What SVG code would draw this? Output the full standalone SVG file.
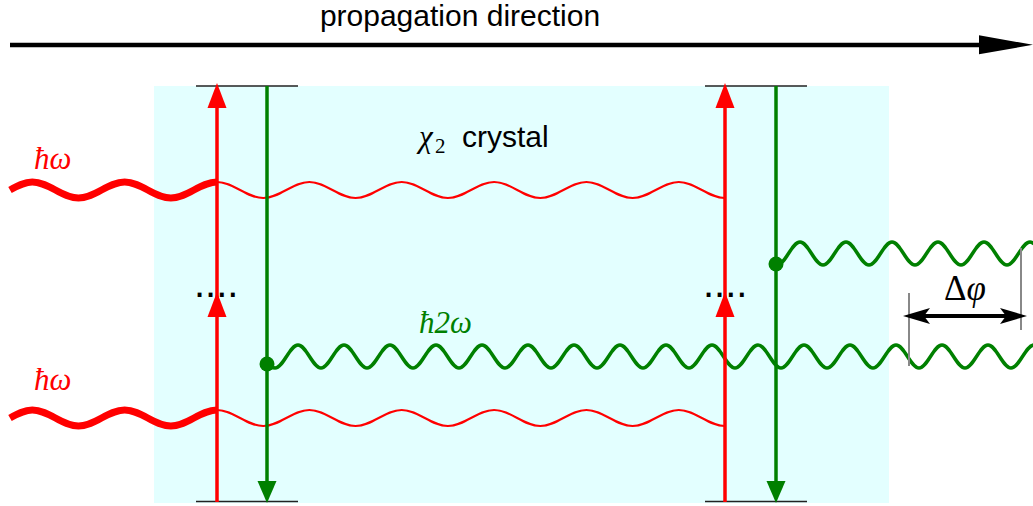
<svg xmlns="http://www.w3.org/2000/svg" width="1033" height="506" viewBox="0 0 1033 506">
<style>
.red{stroke:#ff0000;fill:none}
.grn{stroke:#008000;fill:none}
.lvl{stroke:#222;stroke-width:1.5}
.sans{font-family:"Liberation Sans","DejaVu Sans",sans-serif;font-size:30px;fill:#000}
.math{font-family:"Liberation Serif","DejaVu Serif",serif;font-style:italic;font-size:31px}
</style>
<defs>
<path id="thick" d="M10,190 C17.27,185.9 24.23,182 32.3,182 c16.82,0 29.37,16 46.18,16 s29.37,-16 46.18,-16 s29.37,16 46.18,16 s29.37,-16 46.18,-16"/>
<path id="thin" d="M217,182 c16.82,0 29.37,16 46.18,16 s29.37,-16 46.18,-16 s29.37,16 46.18,16 s29.37,-16 46.18,-16 s29.37,16 46.18,16 s29.37,-16 46.18,-16 s29.37,16 46.18,16 s29.37,-16 46.18,-16 s29.37,16 46.18,16 s29.37,-16 46.18,-16 s29.37,16 46.18,16"/>
<polygon id="upR" points="0,0 -9.5,25 9.5,25" fill="#ff0000"/>
<polygon id="dnG" points="0,0 -9.5,-22 9.5,-22" fill="#008000"/>
</defs>

<g id="crystal">
<rect x="154" y="86" width="735" height="417" fill="#e3ffff"/>
<text class="math" x="419" y="147" fill="#000">χ</text>
<text x="435" y="153" font-family="Liberation Serif,serif" font-size="21" fill="#000">2</text>
<text class="sans" x="462" y="147">crystal</text>
</g>

<g id="propagation">
<text class="sans" x="460" y="26" text-anchor="middle">propagation direction</text>
<line x1="10" y1="45" x2="982" y2="45" stroke="#000" stroke-width="4.5"/>
<polygon points="979,35.3 1033,44.8 979,54.3" fill="#000"/>
</g>

<g id="connectors">
<g id="photon-in-upper">
<use href="#thick" class="red" stroke-width="7"/>
<use href="#thin" class="red" stroke-width="2"/>
</g>
<g id="photon-in-lower" transform="translate(0,228)">
<use href="#thick" class="red" stroke-width="7"/>
<use href="#thin" class="red" stroke-width="2"/>
</g>
<path id="shg-lower" class="grn" stroke-width="3.5" d="M267,364 Q271,368 275,368 c8.37,0 14.63,-23 23,-23 s14.63,23 23,23 s14.63,-23 23,-23 s14.63,23 23,23 s14.63,-23 23,-23 s14.63,23 23,23 s14.63,-23 23,-23 s14.63,23 23,23 s14.63,-23 23,-23 s14.63,23 23,23 s14.63,-23 23,-23 s14.63,23 23,23 s14.63,-23 23,-23 s14.63,23 23,23 s14.63,-23 23,-23 s14.63,23 23,23 s14.63,-23 23,-23 s14.63,23 23,23 s14.63,-23 23,-23 s14.63,23 23,23 s14.63,-23 23,-23 s14.63,23 23,23 s14.63,-23 23,-23 s14.63,23 23,23 s14.63,-23 23,-23 s14.63,23 23,23 s14.63,-23 23,-23 s14.63,23 23,23 s14.63,-23 23,-23 s14.63,23 23,23 s14.63,-23 23,-23 s14.63,23 23,23 s14.63,-23 23,-23 s14.63,23 23,23 s14.63,-23 23,-23"/>
<path id="shg-upper" class="grn" stroke-width="3.5" d="M777,265 c8.37,0 14.63,-23 23,-23 s14.63,23 23,23 s14.63,-23 23,-23 s14.63,23 23,23 s14.63,-23 23,-23 s14.63,23 23,23 s14.63,-23 23,-23 s14.63,23 23,23 s14.63,-23 23,-23 s14.63,23 23,23 s14.63,-23 23,-23 s14.63,23 23,23"/>

<g id="levels">
<line class="lvl" x1="196" y1="86" x2="298" y2="86"/>
<line class="lvl" x1="705" y1="86" x2="807" y2="86"/>
<line class="lvl" x1="196" y1="501.5" x2="298" y2="501.5"/>
<line class="lvl" x1="705" y1="501.5" x2="807" y2="501.5"/>
</g>

<g id="absorption-left">
<line class="red" stroke-width="3.5" x1="217" y1="502" x2="217" y2="100"/>
<use href="#upR" x="217" y="83"/>
<use href="#upR" x="217" y="292"/>
</g>
<g id="absorption-right">
<line class="red" stroke-width="3.5" x1="725" y1="502" x2="725" y2="100"/>
<use href="#upR" x="725" y="83"/>
<use href="#upR" x="725" y="292"/>
</g>
<g id="emission-left">
<line class="grn" stroke-width="3.5" x1="267" y1="86" x2="267" y2="485"/>
<use href="#dnG" x="267" y="503"/>
<circle cx="267" cy="364" r="7.5" fill="#008000"/>
</g>
<g id="emission-right">
<line class="grn" stroke-width="3.5" x1="776" y1="86" x2="776" y2="485"/>
<use href="#dnG" x="776" y="503"/>
<circle cx="776" cy="264" r="7.5" fill="#008000"/>
</g>

<g id="phase-marker">
<line x1="909" y1="293" x2="909" y2="366" stroke="#888" stroke-width="2"/>
<line x1="1021" y1="248" x2="1021" y2="330" stroke="#888" stroke-width="2"/>
<line x1="915" y1="316" x2="1015" y2="316" stroke="#000" stroke-width="4"/>
<path d="M903,316 L930,308 L924,316 L930,324 Z" fill="#000"/>
<path d="M1027,316 L1000,308 L1006,316 L1000,324 Z" fill="#000"/>
</g>
</g>

<g id="labels">
<text x="194" y="297" font-family="Liberation Sans,sans-serif" font-size="40" fill="#000">....</text>
<text x="703" y="297" font-family="Liberation Sans,sans-serif" font-size="40" fill="#000">....</text>
<text class="math" x="34" y="169" fill="#ff0000">ħω</text>
<text class="math" x="34" y="390" fill="#ff0000">ħω</text>
<text class="math" x="419" y="333" fill="#008000" font-size="33">ħ2ω</text>
<text x="944" y="300" font-family="Liberation Serif,serif" font-size="35" fill="#000">Δ<tspan font-style="italic">φ</tspan></text>
</g>
</svg>
